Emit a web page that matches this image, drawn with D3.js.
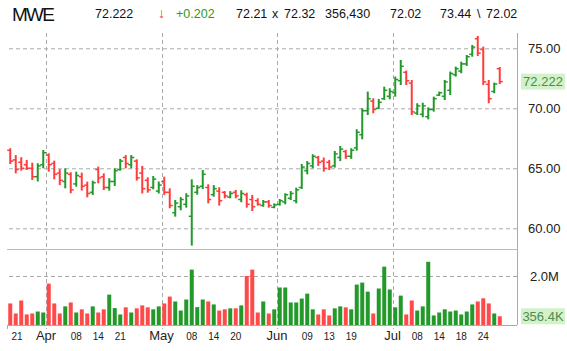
<!DOCTYPE html>
<html>
<head>
<meta charset="utf-8">
<script src="https://cdn.jsdelivr.net/npm/d3@7"></script>
<style>
  body { margin: 0; background: #fff; }
  svg { display: block; font-family: "Liberation Sans", Arial, sans-serif; }
</style>
</head>
<body>
<div id="chart"></div>
<script>
// MWE daily, 2014-03-21 .. 2014-07-29
const dates = [
  "2014-03-21","2014-03-24","2014-03-25","2014-03-26","2014-03-27","2014-03-28","2014-03-31",
  "2014-04-01","2014-04-02","2014-04-03","2014-04-04","2014-04-07","2014-04-08","2014-04-09","2014-04-10","2014-04-11",
  "2014-04-14","2014-04-15","2014-04-16","2014-04-17","2014-04-21","2014-04-22","2014-04-23","2014-04-24","2014-04-25",
  "2014-04-28","2014-04-29","2014-04-30",
  "2014-05-01","2014-05-02","2014-05-05","2014-05-06","2014-05-07","2014-05-08","2014-05-09","2014-05-12","2014-05-13",
  "2014-05-14","2014-05-15","2014-05-16","2014-05-19","2014-05-20","2014-05-21","2014-05-22","2014-05-23","2014-05-27",
  "2014-05-28","2014-05-29","2014-05-30",
  "2014-06-02","2014-06-03","2014-06-04","2014-06-05","2014-06-06","2014-06-09","2014-06-10","2014-06-11","2014-06-12",
  "2014-06-13","2014-06-16","2014-06-17","2014-06-18","2014-06-19","2014-06-20","2014-06-23","2014-06-24","2014-06-25",
  "2014-06-26","2014-06-27","2014-06-30",
  "2014-07-01","2014-07-02","2014-07-03","2014-07-07","2014-07-08","2014-07-09","2014-07-10","2014-07-11","2014-07-14",
  "2014-07-15","2014-07-16","2014-07-17","2014-07-18","2014-07-21","2014-07-22","2014-07-23","2014-07-24","2014-07-25",
  "2014-07-28","2014-07-29"
];

const opens = [
  66.5,65.7,65.5,65.3,65.0,64.3,65.3, 66.1,65.4,64.6,63.9,64.5,63.7,64.3,63.6,63.0,
  64.9,64.3,63.4,63.9,64.9,65.9,65.3,65.6,64.6,64.0,63.4,63.1,
  63.9,63.0,61.3,61.8,62.0,61.0,63.0,63.5,63.4,62.8,63.1,63.0,62.6,63.0,62.4,62.8,62.4,
  62.3,61.9,62.2,61.75,
  62.0,62.2,62.5,62.3,63.4,64.8,65.2,65.9,65.6,65.5,65.2,65.9,66.4,66.0,66.7,67.8,69.8,
  70.6,70.0,70.8,71.0,
  71.3,72.3,73.0,72.1,69.6,69.5,69.3,69.9,71.1,71.0,71.5,72.8,73.1,73.7,74.5,75.8,74.9,
  72.0,71.4,73.3
];
const highs = [
  66.67,66.1,65.92,65.7,65.47,65.42,66.53, 66.25,65.64,64.92,65.0,64.67,64.72,64.64,63.89,63.97,
  65.14,64.58,64.17,65.0,65.78,66.1,66.1,65.75,65.2,64.25,64.36,63.9,
  64.3,63.33,62.36,62.6,62.92,64.08,63.6,64.86,63.67,63.6,63.42,63.1,63.1,63.2,63.17,62.97,62.78,
  62.5,62.36,62.36,62.08,
  62.44,62.92,63.1,63.39,65.36,65.6,66.17,66.03,65.9,65.7,66.44,66.86,66.53,66.67,68.25,70.0,71.39,
  70.83,70.78,71.8,71.67,
  72.64,74.03,73.14,72.36,70.42,70.47,70.08,70.97,71.39,72.36,73.06,73.47,73.89,74.44,75.28,76.03,75.14,
  72.36,72.14,73.44
];
const lows = [
  65.36,64.58,64.8,64.86,64.03,63.9,65.0, 64.72,64.08,63.6,63.33,62.92,63.47,63.14,62.58,62.78,
  63.75,63.19,63.14,63.53,64.8,65.0,65.0,63.97,62.9,62.97,63.25,62.9,
  62.78,61.67,60.97,61.5,61.72,58.56,62.8,63.28,62.08,62.64,61.89,62.5,62.5,62.5,62.17,61.72,61.44,
  61.89,61.8,61.72,61.67,
  61.89,62.0,62.36,62.08,63.28,64.5,65.0,65.2,64.72,64.86,65.06,65.6,65.78,65.78,66.47,67.42,69.44,
  69.58,69.94,70.7,70.75,
  70.97,71.94,71.94,69.44,69.44,69.25,69.08,69.72,71.03,70.69,71.11,72.64,72.92,73.53,74.3,74.36,71.94,
  70.42,71.25,72.02
];
const closes = [
  65.6,64.9,65.0,65.0,64.3,65.2,66.3, 65.3,64.5,64.0,64.6,63.2,64.4,63.5,62.9,63.8,
  64.2,63.4,63.9,64.8,65.6,65.4,65.9,64.2,63.3,63.2,64.1,63.6,
  63.0,61.9,62.1,62.4,62.7,63.5,63.4,64.5,62.4,63.3,62.3,62.7,62.9,62.7,62.9,62.0,61.8,
  62.0,62.2,61.9,61.95,
  62.3,62.8,62.9,63.2,65.1,65.4,66.0,65.5,65.0,65.1,66.2,66.6,66.0,66.5,68.0,69.8,70.8,
  69.9,70.5,71.5,71.4,
  72.4,73.5,72.3,69.7,70.2,70.2,69.9,70.8,71.3,72.2,72.9,73.3,73.7,74.3,75.1,74.6,72.2,
  70.8,72.02,72.222
];
// volume in millions of shares
const volumes = [
  0.88,0.47,1.0,0.43,0.47,0.55,0.51, 1.69,0.88,0.47,0.76,0.92,0.51,0.64,0.47,0.76,
  0.51,0.64,1.24,0.69,0.43,0.72,0.51,0.68,0.80,0.72,0.64,0.76,
  0.88,1.16,0.96,0.59,1.04,2.26,0.73,1.04,0.96,0.84,0.59,0.64,0.68,0.68,0.80,2.0,2.26,
  0.51,0.96,0.47,0.64,
  1.53,1.53,0.92,0.92,1.08,1.28,0.64,0.43,0.64,0.39,0.68,0.76,0.72,0.64,1.65,1.73,1.36,
  0.47,1.49,2.38,1.45,
  0.72,1.20,0.43,1.0,0.59,0.76,2.58,0.39,0.51,0.64,0.55,0.59,0.43,0.55,0.84,0.96,1.09,
  0.88,0.47,0.35643
];

const priceTicks = [60, 65, 70, 75];
const volumeTicks = [2];
const monthTicks = ["2014-04-01","2014-05-01","2014-06-02","2014-07-01"];
const monthLabels = ["Apr","May","Jun","Jul"];
const dayTicks = ["2014-03-21","2014-04-08","2014-04-14","2014-04-21","2014-05-08","2014-05-14","2014-05-20",
  "2014-06-09","2014-06-13","2014-06-19","2014-07-08","2014-07-14","2014-07-18","2014-07-24"];
const dayLabels = ["21","08","14","21","08","14","20","09","13","19","08","14","18","24"];

const header = [
  { t: "MWE", x: 12, size: 19, color: "#111", len: 43, y: 21 },
  { t: "72.222", x: 95, color: "#111" },
  { t: "\u2193", x: 158, color: "#e84040", size: 14 },
  { t: "+0.202", x: 176, color: "#2a9a2a" },
  { t: "72.21", x: 236, color: "#111" },
  { t: "x", x: 272, color: "#111" },
  { t: "72.32", x: 284, color: "#111" },
  { t: "356,430", x: 325, color: "#111" },
  { t: "72.02", x: 390, color: "#111" },
  { t: "73.44", x: 440, color: "#111" },
  { t: "\\", x: 477, color: "#111" },
  { t: "72.02", x: 486, color: "#111" }
];

const W = 567, H = 351;
const left = 7, right = 517;
const pTop = 33, pBot = 249, vTop = 251, vBot = 325;
const upColor = "#23992a", downColor = "#ff3c3c";
const gridColor = "#aaa";

const data = dates.map((d, i) => ({
  date: d, open: opens[i], high: highs[i], low: lows[i], close: closes[i], vol: volumes[i]
}));

const svg = d3.select("#chart").append("svg")
  .attr("width", W).attr("height", H);

const x = d3.scaleBand().domain(dates).range([7.5, 502.5]).padding(0);
const cx = d => x(d) + x.bandwidth() / 2;
const yP = d3.scaleLinear().domain([60, 75]).range([228.3, 48.3]);
const yV = d3.scaleLinear().domain([0, 2]).range([vBot, 276]);

// header
svg.selectAll("text.hdr")
  .data(header)
  .enter().append("text")
  .attr("class", "hdr")
  .attr("x", d => d.x)
  .attr("y", d => d.y || 17.5)
  .attr("font-size", d => d.size || 12.5)
  .attr("fill", d => d.color)
  .attr("textLength", d => d.len || null)
  .text(d => d.t);

// horizontal grid + right axis, price
const pAxis = svg.append("g")
  .attr("transform", `translate(${right},0)`)
  .call(d3.axisRight(yP).tickValues(priceTicks).tickSizeInner(-(right - left)).tickSizeOuter(0)
    .tickPadding(11).tickFormat(d3.format(".2f")));
pAxis.select(".domain").remove();
pAxis.selectAll("line").attr("stroke", gridColor).attr("stroke-dasharray", "4,3");
pAxis.selectAll("text").attr("font-size", 13).attr("fill", "#222")
  .attr("font-family", '"Liberation Sans", Arial, sans-serif');

// volume grid + axis
const vAxis = svg.append("g")
  .attr("transform", `translate(${right},0)`)
  .call(d3.axisRight(yV).tickValues(volumeTicks).tickSizeInner(-(right - left)).tickSizeOuter(0)
    .tickPadding(13).tickFormat(d => d.toFixed(1) + "M"));
vAxis.select(".domain").remove();
vAxis.selectAll("line").attr("stroke", gridColor).attr("stroke-dasharray", "4,3");
vAxis.selectAll("text").attr("font-size", 13).attr("fill", "#222")
  .attr("font-family", '"Liberation Sans", Arial, sans-serif');

// month gridlines
monthTicks.forEach(m => {
  const gx = Math.round(x(m)) + 0.5;
  svg.append("line").attr("x1", gx).attr("x2", gx).attr("y1", pTop).attr("y2", pBot)
    .attr("stroke", gridColor).attr("stroke-dasharray", "4,3");
  svg.append("line").attr("x1", gx).attr("x2", gx).attr("y1", vTop).attr("y2", vBot + 4)
    .attr("stroke", gridColor).attr("stroke-dasharray", "4,3");
});

// panel frame
svg.append("line").attr("x1", right + 0.5).attr("x2", right + 0.5).attr("y1", pTop).attr("y2", vBot)
  .attr("stroke", "#aaa");
svg.append("line").attr("x1", left).attr("x2", right).attr("y1", pBot + 0.5).attr("y2", pBot + 0.5)
  .attr("stroke", "#bbb");
svg.append("line").attr("x1", left).attr("x2", right).attr("y1", vBot + 0.5).attr("y2", vBot + 0.5)
  .attr("stroke", "#aaa");
svg.append("line").attr("x1", left + 0.5).attr("x2", left + 0.5).attr("y1", vBot).attr("y2", vBot + 4)
  .attr("stroke", "#aaa");

// volume bars
svg.selectAll("rect.vol")
  .data(data)
  .enter().append("rect")
  .attr("class", "vol")
  .attr("x", d => cx(d.date) - 2)
  .attr("y", d => yV(d.vol))
  .attr("width", 4)
  .attr("height", d => vBot - yV(d.vol))
  .attr("fill", d => d.close >= d.open ? upColor : "#ff4a4a");

// OHLC bars
const bars = svg.selectAll("g.ohlc")
  .data(data)
  .enter().append("g")
  .attr("class", "ohlc")
  .attr("stroke", d => d.close >= d.open ? upColor : downColor);

bars.append("line")
  .attr("x1", d => cx(d.date)).attr("x2", d => cx(d.date))
  .attr("y1", d => yP(d.high)).attr("y2", d => yP(d.low))
  .attr("stroke-width", 2);
bars.append("line")
  .attr("x1", d => cx(d.date) - 3).attr("x2", d => cx(d.date))
  .attr("y1", d => yP(d.open)).attr("y2", d => yP(d.open))
  .attr("stroke-width", 1.5);
bars.append("line")
  .attr("x1", d => cx(d.date)).attr("x2", d => cx(d.date) + 3)
  .attr("y1", d => yP(d.close)).attr("y2", d => yP(d.close))
  .attr("stroke-width", 1.5);

// last value boxes
const last = data[data.length - 1];
function tag(yc, label) {
  svg.append("rect").attr("x", 521).attr("y", yc - 8).attr("width", 44).attr("height", 16)
    .attr("fill", "#d3f2c9");
  svg.append("text").attr("x", 543).attr("y", yc + 4.5).attr("text-anchor", "middle")
    .attr("font-size", 13).attr("fill", "#4f8a4f").text(label);
}
tag(yP(last.close), last.close.toFixed(3));
tag(yV(last.vol), (last.vol * 1000).toFixed(1) + "K");

// x labels
svg.selectAll("text.day")
  .data(dayTicks)
  .enter().append("text")
  .attr("class", "day")
  .attr("x", d => Math.max(cx(d), left + 10))
  .attr("y", 340)
  .attr("text-anchor", "middle")
  .attr("font-size", 10)
  .attr("fill", "#222")
  .text((d, i) => dayLabels[i]);

svg.selectAll("text.mon")
  .data(monthTicks)
  .enter().append("text")
  .attr("class", "mon")
  .attr("x", d => x(d))
  .attr("y", 340)
  .attr("text-anchor", "middle")
  .attr("font-size", 13)
  .attr("fill", "#222")
  .text((d, i) => monthLabels[i]);
</script>
</body>
</html>
